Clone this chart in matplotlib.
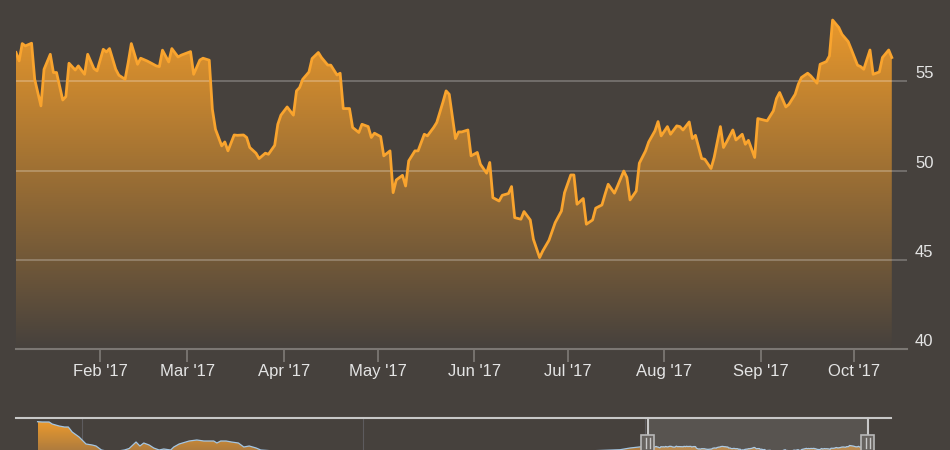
import matplotlib
matplotlib.use("Agg")
import matplotlib.pyplot as plt
import matplotlib.dates as mdates
import matplotlib.transforms as mtransforms
from matplotlib.colors import to_rgb
from matplotlib.lines import Line2D
from matplotlib.patches import Rectangle
import numpy as np
import pandas as pd

plt.rcParams["font.family"] = ["Liberation Sans", "DejaVu Sans"]

BG = "#46413d"
ORANGE = "#f9a42e"
FILL_TOP = "#f29d2b"
TEXT = "#e4e4e4"
AXIS = "#7b7773"

# daily closes, 2017 (month-day)
dates = [
    "01-05", "01-06", "01-07", "01-08", "01-10", "01-11", "01-13", "01-14", "01-16", "01-17",
    "01-18", "01-20", "01-21", "01-22", "01-24", "01-25", "01-27", "01-28", "01-30", "01-31",
    "02-02", "02-03", "02-04", "02-06", "02-07", "02-09", "02-10", "02-11", "02-13", "02-14",
    "02-16", "02-17", "02-19", "02-20", "02-21", "02-23", "02-24", "02-26", "02-27", "03-02",
    "03-03", "03-05", "03-06", "03-08", "03-09", "03-10", "03-12", "03-13", "03-14", "03-16",
    "03-17", "03-19", "03-20", "03-21", "03-23", "03-24", "03-26", "03-27", "03-29", "03-30",
    "03-31", "04-02", "04-04", "04-05", "04-06", "04-07", "04-09", "04-10", "04-12", "04-13",
    "04-15", "04-16", "04-18", "04-19", "04-20", "04-22", "04-23", "04-25", "04-26", "04-28",
    "04-29", "04-30", "05-02", "05-03", "05-05", "05-06", "05-07", "05-09", "05-10", "05-11",
    "05-13", "05-14", "05-16", "05-17", "05-19", "05-20", "05-22", "05-23", "05-24", "05-26",
    "05-27", "05-28", "05-30", "05-31", "06-02", "06-03", "06-05", "06-06", "06-07", "06-09",
    "06-10", "06-12", "06-13", "06-14", "06-16", "06-17", "06-19", "06-20", "06-22", "06-23",
    "06-25", "06-27", "06-29", "06-30", "07-02", "07-03", "07-04", "07-06", "07-07", "07-09",
    "07-10", "07-12", "07-13", "07-14", "07-16", "07-17", "07-19", "07-20", "07-21", "07-23",
    "07-24", "07-26", "07-27", "07-29", "07-30", "07-31", "08-02", "08-03", "08-05", "08-06",
    "08-07", "08-09", "08-10", "08-11", "08-13", "08-14", "08-16", "08-17", "08-19", "08-20",
    "08-21", "08-23", "08-24", "08-26", "08-27", "08-28", "08-30", "08-31", "09-02", "09-03",
    "09-05", "09-06", "09-07", "09-09", "09-10", "09-12", "09-13", "09-14", "09-16", "09-17",
    "09-19", "09-20", "09-22", "09-23", "09-24", "09-26", "09-27", "09-29", "09-30", "10-02",
    "10-03", "10-04", "10-06", "10-07", "10-09", "10-10", "10-12", "10-13",
]
close = [
    56.61, 56.14, 57.11, 56.98, 57.13, 55.11, 53.62, 55.67, 56.51, 55.49,
    55.49, 53.95, 54.14, 56.01, 55.63, 55.86, 55.39, 56.51, 55.71, 55.58,
    56.79, 56.64, 56.83, 55.67, 55.34, 55.11, 56.05, 57.11, 55.95, 56.29,
    56.14, 56.05, 55.86, 55.82, 56.74, 56.08, 56.83, 56.36, 56.46, 56.66,
    55.39, 56.19, 56.29, 56.18, 53.43, 52.31, 51.38, 51.60, 51.10, 51.99,
    51.97, 51.99, 51.85, 51.29, 50.97, 50.67, 50.97, 50.91, 51.41, 52.59,
    53.10, 53.56, 53.10, 54.46, 54.65, 55.11, 55.52, 56.27, 56.61, 56.33,
    55.91, 55.90, 55.35, 55.45, 53.47, 53.47, 52.41, 52.13, 52.59, 52.46,
    51.85, 52.09, 51.90, 50.82, 51.10, 48.76, 49.47, 49.73, 49.13, 50.54,
    51.10, 51.10, 52.03, 51.94, 52.41, 52.69, 53.84, 54.46, 54.27, 51.79,
    52.16, 52.16, 52.27, 50.82, 51.01, 50.35, 49.85, 50.45, 48.48, 48.29,
    48.61, 48.71, 49.10, 47.36, 47.27, 47.70, 47.23, 46.15, 45.12, 45.49,
    46.09, 47.08, 47.73, 48.76, 49.75, 49.75, 48.11, 48.43, 46.99, 47.23,
    47.89, 48.07, 48.67, 49.23, 48.73, 49.13, 49.97, 49.61, 48.35, 48.85,
    50.41, 51.10, 51.60, 52.22, 52.74, 51.94, 52.46, 52.03, 52.50, 52.46,
    52.27, 52.72, 51.79, 51.97, 50.67, 50.63, 50.11, 50.73, 52.46, 51.29,
    51.60, 52.27, 51.71, 52.03, 51.47, 51.69, 50.73, 52.91, 52.82, 52.78,
    53.34, 54.03, 54.37, 53.56, 53.71, 54.27, 54.83, 55.21, 55.45, 55.30,
    54.89, 55.95, 56.10, 56.42, 58.43, 58.01, 57.63, 57.22, 56.79, 55.90,
    55.82, 55.67, 56.75, 55.39, 55.52, 56.33, 56.75, 56.33,
]

# longer history shown only in the navigator
nav_dates = [
    "2014-11-04", "2014-11-10", "2014-11-19", "2014-11-23", "2014-12-02", "2014-12-09",
    "2014-12-14", "2014-12-19", "2014-12-28", "2015-01-06", "2015-01-14", "2015-01-19",
    "2015-01-26", "2015-02-08", "2015-02-25", "2015-03-03", "2015-03-12", "2015-03-17",
    "2015-03-22", "2015-03-29", "2015-04-04", "2015-04-11", "2015-04-17", "2015-04-26",
    "2015-04-30", "2015-05-07", "2015-05-20", "2015-05-30", "2015-06-08", "2015-06-21",
    "2015-06-25", "2015-06-30", "2015-07-07", "2015-07-14", "2015-07-23", "2015-07-30",
    "2015-08-06", "2015-08-15", "2015-08-21", "2015-10-10", "2015-12-27", "2016-02-17",
    "2016-05-05", "2016-07-23", "2016-10-09", "2016-11-30", "2016-12-13", "2016-12-28",
]
nav_close = [
    106.0, 105.4, 105.4, 101.4, 97.4, 95.4,
    95.4, 85.4, 75.4, 61.4, 59.4, 57.4,
    49.4, 45.4, 49.4, 52.4, 65.4, 57.4,
    63.4, 59.4, 53.4, 49.4, 51.4, 49.4,
    55.4, 61.4, 67.4, 69.4, 67.4, 67.4,
    63.4, 67.4, 67.4, 65.4, 63.4, 55.4,
    57.4, 53.4, 49.4, 44.0, 42.0, 40.0,
    46.0, 44.0, 47.0, 50.0, 53.4, 56.0,
]

month_ticks = ["2017-02-01", "2017-03-01", "2017-04-01", "2017-05-01", "2017-06-01",
               "2017-07-01", "2017-08-01", "2017-09-01", "2017-10-01"]
month_labels = ["Feb '17", "Mar '17", "Apr '17", "May '17", "Jun '17",
                "Jul '17", "Aug '17", "Sep '17", "Oct '17"]
y_ticks = [40, 45, 50, 55]
nav_years = ["2015-01-01", "2016-01-01", "2017-01-01"]

x = pd.to_datetime(["2017-" + d for d in dates])
y = np.array(close)
nav_x = pd.to_datetime(nav_dates).append(x)
nav_y = np.concatenate([nav_close, close])

view_start = x[0]
view_end = pd.Timestamp("2017-10-17 21:00")
nav_start = pd.Timestamp("2014-10-07")
nav_end = pd.Timestamp("2017-11-17")


def gradient_area(ax, xs, ys, base, lo, hi, top_color, bottom_color, z=1):
    poly = ax.fill_between(xs, ys, base, facecolor="none", edgecolor="none")
    t = np.linspace(0, 1, 256)[:, None, None]
    img = np.array(to_rgb(top_color)) * (1 - t) + np.array(to_rgb(bottom_color)) * t
    x0, x1 = mdates.date2num(xs[0]), mdates.date2num(xs[-1])
    im = ax.imshow(img, extent=[x0, x1, lo, hi], aspect="auto", origin="upper", zorder=z)
    im.set_clip_path(poly.get_paths()[0], ax.transData)


fig = plt.figure(figsize=(9.5, 4.5), dpi=100, facecolor=BG)

# main chart
ax = fig.add_axes([16 / 950, 1 - 349 / 450, 891 / 950, 349 / 450])
ax.set_facecolor(BG)
ylo, yhi = 40, 40 + 349 / 17.85
gradient_area(ax, x, y, ylo, ylo, yhi, FILL_TOP, BG)
ax.plot(x, y, color=ORANGE, lw=2.0, solid_joinstyle="round", zorder=3)
for v in y_ticks[1:]:
    ax.axhline(v, color="white", alpha=0.3, lw=1.1, zorder=2)

ax.set_xlim(view_start, view_end)
ax.set_ylim(ylo, yhi)
for s in ["top", "left", "right"]:
    ax.spines[s].set_visible(False)
ax.spines["bottom"].set_color(AXIS)
ax.spines["bottom"].set_linewidth(1.5)
ax.set_xticks(pd.to_datetime(month_ticks))
ax.set_xticklabels(month_labels)
ax.tick_params(axis="x", length=9.5, width=1.3, color=AXIS, pad=1,
               labelsize=12, labelcolor=TEXT)
ax.set_yticks([])

ylab_tr = ax.get_yaxis_transform() + mtransforms.ScaledTranslation(
    8 / 100, 3 / 100, fig.dpi_scale_trans)
for v in y_ticks:
    ax.text(1, v, str(v), transform=ylab_tr, ha="left", va="baseline",
            fontsize=12, color=TEXT, clip_on=False)

# navigator
nav = fig.add_axes([16 / 950, 1 - 468 / 450, 875 / 950, 50 / 450])
nav.set_facecolor(BG)
nlo, nhi = 13.4, 113.4
for d in pd.to_datetime(nav_years):
    nav.axvline(d, color="#5d5b5e", lw=0.8, zorder=0.5)
gradient_area(nav, nav_x, nav_y, nlo, nlo, nhi, FILL_TOP, "#8a6a48")
nav.plot(nav_x, nav_y, color="#a3c6e4", lw=0.9, zorder=3)
nav.axvspan(view_start, view_end, color="white", alpha=0.1, lw=0, zorder=4)
nav.set_xlim(nav_start, nav_end)
nav.set_ylim(nlo, nhi)
nav.set_xticks([])
nav.set_yticks([])
for s in nav.spines.values():
    s.set_visible(False)
nav.plot([0, 1], [1, 1], transform=nav.transAxes, color="#c8c8c8", lw=1.5,
         clip_on=False, zorder=5)
for d in (view_start, view_end):
    nav.axvline(d, color="#c8c8c8", lw=1.5, zorder=5)
    anchor = mtransforms.blended_transform_factory(nav.transData, nav.transAxes)
    tr = fig.dpi_scale_trans + mtransforms.ScaledTranslation(
        mdates.date2num(d), 0.5, anchor)
    fig.add_artist(Rectangle((-0.065, -0.085), 0.13, 0.17, transform=tr,
                             facecolor="#67635f", edgecolor="#b8b8b8", lw=1.2,
                             zorder=6))
    for dx in (-0.017, 0.017):
        fig.add_artist(Line2D([dx, dx], [-0.05, 0.05], transform=tr,
                              color="#c8c8c8", lw=1.0, zorder=7))

fig.savefig("out.png", dpi=100, facecolor=BG)
